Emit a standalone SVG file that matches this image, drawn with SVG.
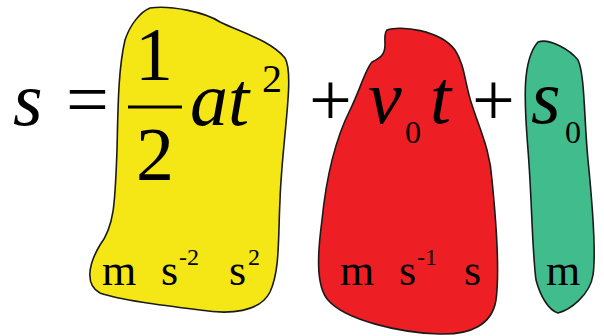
<svg xmlns="http://www.w3.org/2000/svg" width="604" height="336" viewBox="0 0 604 336">
<style>
.blob{stroke:#1a1a1a;stroke-width:1.6;stroke-linejoin:round}
.m{font-size:76px}
.i{font-style:italic}
.sub{font-size:32px}
.sup{font-size:40px}
.u{font-size:44px}
.us{font-size:24px}
</style>
<rect width="604" height="336" fill="#fff"/>
<g font-family="'Liberation Serif', 'DejaVu Serif', serif" fill="#000">
<g id="lhs">
<text class="m i" x="13" y="125">s</text>
<text class="m" x="66" y="125">=</text>
</g>
<g id="term-accel">
<path class="blob" fill="#F5E616" d="M 150 8 C 170 5, 205 12, 220 22 C 240 32, 270 40, 285 58 C 295 75, 282 140, 280 200 C 278 240, 280 270, 270 292 C 260 312, 230 315, 200 310 C 160 305, 120 300, 100 293 C 85 285, 88 265, 100 245 C 115 225, 115 200, 117 150 C 118 110, 118 70, 125 40 C 130 25, 140 12, 150 8 Z"/>
<text class="m" x="154" y="80" text-anchor="middle">1</text>
<line x1="128" y1="107" x2="182" y2="107" stroke="#000" stroke-width="3"/>
<text class="m" x="155" y="180" text-anchor="middle">2</text>
<text class="m i" x="190" y="125">at</text>
<text class="sup" x="262" y="92">2</text>
<text class="u" x="102" y="285">m</text>
<text class="u" x="161" y="285">s</text>
<text class="us" x="179" y="265">-2</text>
<text class="u" x="229" y="285">s</text>
<text class="us" x="248" y="265">2</text>
</g>
<g id="plus1"><text class="m" x="309" y="125">+</text></g>
<g id="term-velocity">
<path class="blob" fill="#ED1F24" d="M 387 30 C 400 25, 440 30, 455 50 C 465 65, 465 85, 472 105 C 480 130, 490 150, 492 180 C 496 220, 500 270, 496 300 C 492 325, 470 335, 440 334 C 400 333, 345 320, 328 300 C 315 285, 318 250, 322 220 C 326 180, 335 140, 350 110 C 360 90, 365 70, 372 62 C 380 58, 385 55, 385 45 C 385 38, 384 33, 387 30 Z"/>
<text class="m i" x="368" y="123">v</text>
<text class="sub" x="405" y="143">0</text>
<text class="m i" x="430" y="123">t</text>
<text class="u" x="340" y="285">m</text>
<text class="u" x="399" y="285">s</text>
<text class="us" x="417" y="265">-1</text>
<text class="u" x="464" y="285">s</text>
</g>
<g id="plus2"><text class="m" x="472" y="125">+</text></g>
<g id="term-initial">
<path class="blob" fill="#40BC8D" d="M 538 42 C 550 38, 570 50, 578 60 C 585 75, 584 120, 588 160 C 592 200, 596 255, 593 275 C 590 295, 570 310, 558 313 C 548 310, 540 295, 536 280 C 532 250, 532 200, 528 150 C 524 100, 522 60, 538 42 Z"/>
<text class="m i" x="531" y="123">s</text>
<text class="sub" x="565" y="143">0</text>
<text class="u" x="546" y="285">m</text>
</g>
</g>
</svg>
